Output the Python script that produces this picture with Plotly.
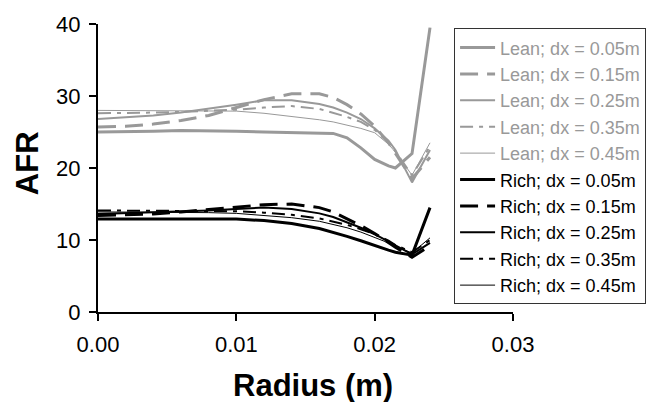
import plotly.graph_objects as go

radius = [0, 0.002, 0.004, 0.006, 0.008, 0.010, 0.012, 0.014, 0.016, 0.017,
          0.018, 0.019, 0.020, 0.021, 0.0215, 0.0227, 0.024]

lean_005 = [25.0, 25.0, 25.1, 25.2, 25.2, 25.1, 25.0, 24.9, 24.8, 24.8, 24.2, 22.8, 21.2, 20.3, 20.0, 22.0, 39.5]
lean_015 = [25.7, 25.8, 26.1, 26.6, 27.3, 28.4, 29.5, 30.3, 30.3, 29.8, 28.8, 27.5, 25.8, 23.5, 22.0, 18.5, 21.5]
lean_025 = [26.8, 27.0, 27.3, 27.7, 28.2, 28.8, 29.4, 29.4, 28.9, 28.4, 27.7, 26.8, 25.5, 23.8, 22.5, 18.0, 22.5]
lean_035 = [27.6, 27.6, 27.7, 27.8, 27.9, 28.1, 28.4, 28.6, 28.2, 27.7, 27.1, 26.4, 25.3, 23.5, 22.3, 19.0, 23.0]
lean_045 = [28.0, 28.0, 28.0, 28.0, 28.0, 27.9, 27.6, 27.2, 26.7, 26.4, 26.0, 25.5, 24.9, 23.3, 22.2, 19.0, 23.5]

rich_005 = [12.9, 12.9, 13.0, 13.0, 13.0, 12.9, 12.7, 12.3, 11.6, 11.1, 10.5, 9.9, 9.2, 8.6, 8.3, 7.9, 14.5]
rich_015 = [13.4, 13.5, 13.6, 13.9, 14.2, 14.6, 14.9, 15.0, 14.5, 13.9, 13.0, 12.0, 10.9, 9.6, 9.0, 7.6, 9.2]
rich_025 = [13.6, 13.7, 13.8, 13.9, 14.1, 14.3, 14.5, 14.3, 13.7, 13.2, 12.5, 11.7, 10.8, 9.8, 9.2, 8.0, 9.6]
rich_035 = [14.1, 14.1, 14.1, 14.1, 14.1, 14.0, 13.8, 13.5, 13.0, 12.6, 12.1, 11.5, 10.8, 9.9, 9.3, 8.3, 10.0]
rich_045 = [13.9, 13.9, 13.9, 13.9, 13.8, 13.7, 13.4, 13.1, 12.6, 12.2, 11.7, 11.1, 10.4, 9.6, 9.1, 8.2, 10.3]

names = ["Lean; dx = 0.05m", "Lean; dx = 0.15m", "Lean; dx = 0.25m", "Lean; dx = 0.35m", "Lean; dx = 0.45m",
         "Rich; dx = 0.05m", "Rich; dx = 0.15m", "Rich; dx = 0.25m", "Rich; dx = 0.35m", "Rich; dx = 0.45m"]
series = [lean_005, lean_015, lean_025, lean_035, lean_045,
          rich_005, rich_015, rich_025, rich_035, rich_045]

x_title = "Radius (m)"
y_title = "AFR"

GRAY = "#999999"
BLACK = "#000000"
DASH = "18px,9px"
DASHDOT = "13px,6px,4px,6px"
styles = [
    (GRAY, 3, "solid"), (GRAY, 3, DASH), (GRAY, 2, "solid"), (GRAY, 2, DASHDOT), (GRAY, 1, "solid"),
    (BLACK, 3, "solid"), (BLACK, 3, DASH), (BLACK, 2, "solid"), (BLACK, 2, DASHDOT), (BLACK, 1, "solid"),
]

fig = go.Figure()
for name, ys, (col, w, dash) in zip(names, series, styles):
    fig.add_trace(go.Scatter(
        x=radius, y=ys, mode="lines",
        name=f"<span style='color:{col}'>{name}</span>",
        line=dict(color=col, width=w, dash=dash),
    ))

FONT = "Arial, Liberation Sans, sans-serif"
fig.update_layout(
    width=669, height=402,
    margin=dict(l=98, r=156, t=18, b=90),
    paper_bgcolor="white", plot_bgcolor="white",
    font=dict(family=FONT, color="#000000", size=22),
    showlegend=True,
    legend=dict(
        x=0.858, y=0.985, xanchor="left", yanchor="top",
        bgcolor="white", bordercolor="#333333", borderwidth=1,
        font=dict(family=FONT, size=18),
        itemwidth=35, tracegroupgap=0,
    ),
    xaxis=dict(
        range=[0, 0.03], tickvals=[0, 0.01, 0.02, 0.03], tickformat=".2f",
        showgrid=False, zeroline=False,
        showline=True, linecolor="#000000", linewidth=2,
        ticks="outside", ticklen=7, tickwidth=2, tickcolor="#000000",
        tickfont=dict(size=22), ticklabelstandoff=5,
    ),
    yaxis=dict(
        range=[0, 40], tickvals=[0, 10, 20, 30, 40],
        showgrid=False, zeroline=False,
        showline=True, linecolor="#000000", linewidth=2,
        ticks="outside", ticklen=7, tickwidth=2, tickcolor="#000000",
        tickfont=dict(size=22), ticklabelstandoff=4,
    ),
    annotations=[
        dict(text=f"<b>{x_title}</b>", xref="paper", yref="paper", x=0.518, y=-0.255,
             xanchor="center", yanchor="middle", showarrow=False, font=dict(size=31)),
        dict(text=f"<b>{y_title}</b>", xref="paper", yref="paper", x=-0.171, y=0.517,
             xanchor="center", yanchor="middle", showarrow=False, textangle=-90, font=dict(size=31)),
    ],
)

fig.write_html("out.html")
